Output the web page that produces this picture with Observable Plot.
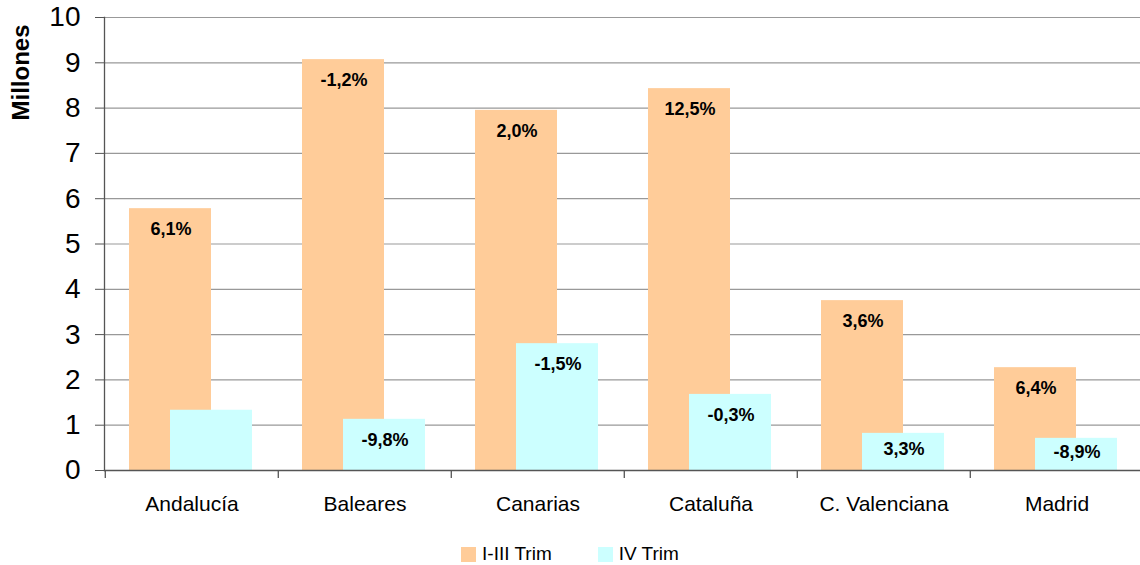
<!DOCTYPE html>
<html>
<head>
<meta charset="utf-8">
<script src="https://cdn.jsdelivr.net/npm/d3@7"></script>
<script src="https://cdn.jsdelivr.net/npm/@observablehq/plot@0.6"></script>
<style>
  html, body { margin: 0; padding: 0; background: #fff; overflow: hidden; font-family: "Liberation Sans", Arial, sans-serif; }
  #chart svg { display: block; max-width: none !important; }
  #legend { display: flex; justify-content: center; align-items: center; height: 44px; gap: 46px; font-size: 19px; color: #000; }
  #legend .item { display: flex; align-items: center; gap: 6px; }
  #legend .sw { width: 15px; height: 15px; display: inline-block; }
</style>
</head>
<body>
<div id="chart"></div>
<script>
const categories = ["Andalucía", "Baleares", "Canarias", "Cataluña", "C. Valenciana", "Madrid"];
const seriesNames = ["I-III Trim", "IV Trim"];
const seriesColors = ["#FFCC99", "#CCFFFF"];
const valuesI3 = [5.78, 9.07, 7.95, 8.43, 3.75, 2.27];
const valuesIV = [1.33, 1.13, 2.80, 1.68, 0.82, 0.71];
const labelsI3 = ["6,1%", "-1,2%", "2,0%", "12,5%", "3,6%", "6,4%"];
const labelsIV = ["", "-9,8%", "-1,5%", "-0,3%", "3,3%", "-8,9%"];
const yTicks = [0, 1, 2, 3, 4, 5, 6, 7, 8, 9, 10];

const W = 1140, H = 532;
const mL = 104, mT = 17, mB = 62, mR = 0;
const xEnd = 1144.5;
const pxPerUnit = (H - mT - mB) / 10;
const bw = (xEnd - mL) / categories.length;

const rowsI3 = categories.map((c, i) => ({cat: c, v: valuesI3[i], label: labelsI3[i]}));
const rowsIV = categories.map((c, i) => ({cat: c, v: valuesIV[i], label: labelsIV[i]}));
const labelY = d => Math.max(d.v - 21 / pxPerUnit, d.v / 2 + 0.05);

const plot = Plot.plot({
  width: W, height: H,
  marginLeft: mL, marginRight: mR, marginTop: mT, marginBottom: mB,
  style: {fontFamily: "'Liberation Sans', Arial, sans-serif", color: "#000", background: "#fff"},
  x: {type: "band", domain: categories, padding: 0, range: [mL, xEnd]},
  y: {domain: [0, 10]},
  marks: [
    Plot.gridY(yTicks, {stroke: "#999", strokeOpacity: 1, strokeWidth: 1.2}),
    Plot.barY(rowsI3, {x: "cat", y: "v", fill: seriesColors[0], insetLeft: 24, insetRight: 67}),
    Plot.barY(rowsIV, {x: "cat", y: "v", fill: seriesColors[1], insetLeft: 65, insetRight: 26}),
    Plot.frame({anchor: "left", stroke: "#555", strokeWidth: 1.3}),
    Plot.frame({anchor: "bottom", stroke: "#555", strokeWidth: 1.3}),
    Plot.ruleX(categories, {x: d => d, dx: -bw / 2, y1: 0, y2: -8 / pxPerUnit, stroke: "#555", strokeWidth: 1.3}),
    Plot.axisY(yTicks, {tickSize: 9, tickPadding: 15, fontSize: 28, stroke: "#555", fill: "#000", label: null, tickFormat: d => String(d)}),
    Plot.axisX({tickSize: 0, tickPadding: 26, fontSize: 21, fill: "#000", label: null}),
    Plot.text(rowsI3, {x: "cat", y: labelY, text: "label", dx: -21, fontSize: 18, fontWeight: "bold", fill: "#000"}),
    Plot.text(rowsIV, {x: "cat", y: labelY, text: "label", dx: 20, fontSize: 18, fontWeight: "bold", fill: "#000"}),
    Plot.text(["Millones"], {frameAnchor: "top-left", dx: -93, dy: 55, rotate: -90, text: d => d, fontSize: 24, fontWeight: "bold", fill: "#000", textAnchor: "middle"})
  ]
});
document.getElementById("chart").appendChild(plot);

const legend = document.createElement("div");
legend.id = "legend";
seriesNames.forEach((name, i) => {
  const item = document.createElement("span");
  item.className = "item";
  const sw = document.createElement("span");
  sw.className = "sw";
  sw.style.background = seriesColors[i];
  const t = document.createElement("span");
  t.textContent = name;
  item.appendChild(sw);
  item.appendChild(t);
  legend.appendChild(item);
});
document.getElementById("chart").appendChild(legend);
</script>
</body>
</html>
